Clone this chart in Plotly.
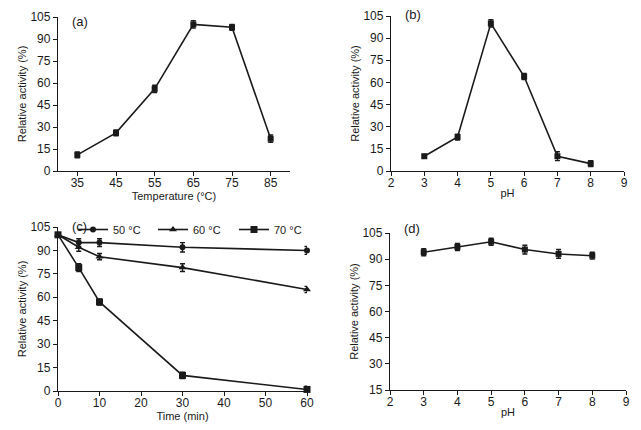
import plotly.graph_objects as go

W, H = 641, 430

# Panel (a): temperature
temp = [35, 45, 55, 65, 75, 85]
temp_act = [11, 26, 56, 100, 98, 22]
temp_err = [2, 2, 2.5, 2.5, 2, 2.5]

# Panel (b): pH optimum
ph = [3, 4, 5, 6, 7, 8]
ph_act = [10, 23, 100, 64, 10, 5]
ph_err = [1.2, 2, 2.5, 2, 3, 2]

# Panel (c): thermal stability
time_min = [0, 5, 10, 30, 60]
act_50 = [100, 95, 95, 92, 90]
err_50 = [0, 2.5, 2.5, 3, 2.5]
act_60 = [100, 92, 86, 79, 65]
err_60 = [0, 2.5, 2, 2.5, 2]
act_70 = [100, 79, 57, 10, 1]
err_70 = [0, 2.5, 2, 2, 2]

# Panel (d): pH stability
ph_stab = [3, 4, 5, 6, 7, 8]
ph_stab_act = [94, 97, 100, 95.5, 93, 92]
ph_stab_err = [2, 2, 2, 2.5, 2.5, 2]

y_ticks_full = [0, 15, 30, 45, 60, 75, 90, 105]
y_ticks_d = [15, 30, 45, 60, 75, 90, 105]

FONT = "Liberation Sans, Arial, sans-serif"
INK = "#1a1a1a"

fig = go.Figure()

def add(x, y, err, xa, ya, symbol, name=None, legend=None, size=6):
    fig.add_trace(go.Scatter(
        x=x, y=y, mode="lines+markers", xaxis=xa, yaxis=ya,
        name=name, showlegend=legend is not None, legend=legend or "legend",
        line=dict(color=INK, width=1.6),
        marker=dict(symbol=symbol, size=size, color=INK),
        error_y=dict(type="data", array=err, visible=True, color=INK, thickness=1.4, width=2.5),
        cliponaxis=False,
    ))

add(temp, temp_act, temp_err, "x", "y", "square")
add(ph, ph_act, ph_err, "x2", "y2", "square")
add(time_min, act_50, err_50, "x3", "y3", "circle", "50 °C", "legend", 6)
add(time_min, act_60, err_60, "x3", "y3", "triangle-up", "60 °C", "legend2", 7)
add(time_min, act_70, err_70, "x3", "y3", "square", "70 °C", "legend3", 7)
add(ph_stab, ph_stab_act, ph_stab_err, "x4", "y4", "square")

def px_x(a, b):
    return [a / W, b / W]

def px_y(top, bottom):
    return [1 - bottom / H, 1 - top / H]

axis_common = dict(showgrid=False, zeroline=False, showline=True, linecolor=INK, linewidth=1.3,
                   ticks="outside", ticklen=4, tickwidth=1.2, tickcolor=INK, automargin=False,
                   tickfont=dict(family=FONT, size=12, color=INK), mirror=False)
title_font = dict(family=FONT, size=11, color=INK)

def xax(**kw):
    return dict(ticklabelstandoff=-4, **axis_common, **kw)

def yax(**kw):
    return dict(**axis_common, **kw)

def leg(xpx):
    return dict(orientation="h", x=xpx / W, y=1 - 215 / H, xanchor="left", yanchor="top",
                font=dict(family=FONT, size=11, color=INK), bgcolor="rgba(0,0,0,0)",
                itemwidth=30)

fig.update_layout(
    width=W, height=H, margin=dict(l=0, r=0, t=0, b=0),
    paper_bgcolor="white", plot_bgcolor="white",
    font=dict(family=FONT, size=12, color=INK),
    xaxis=xax(domain=px_x(58, 290), range=[30, 90], tickvals=temp, anchor="y",
              title=dict(text="Temperature (°C)", font=title_font, standoff=0)),
    yaxis=yax(domain=px_y(17, 171), range=[0, 105], tickvals=y_ticks_full, anchor="x",
              title=dict(text="Relative activity (%)", font=title_font, standoff=1)),
    xaxis2=xax(domain=px_x(391, 624), range=[2, 9], tickvals=[2, 3, 4, 5, 6, 7, 8, 9], anchor="y2",
               title=dict(text="pH", font=title_font, standoff=0)),
    yaxis2=yax(domain=px_y(16, 171), range=[0, 105], tickvals=y_ticks_full, anchor="x2",
               title=dict(text="Relative activity (%)", font=title_font, standoff=1)),
    xaxis3=xax(domain=px_x(58, 307), range=[0, 60], tickvals=[0, 10, 20, 30, 40, 50, 60], anchor="y3",
               title=dict(text="Time (min)", font=title_font, standoff=0)),
    yaxis3=yax(domain=px_y(227, 391), range=[0, 105], tickvals=y_ticks_full, anchor="x3",
               title=dict(text="Relative activity (%)", font=title_font, standoff=1)),
    xaxis4=xax(domain=px_x(390, 626), range=[2, 9], tickvals=[2, 3, 4, 5, 6, 7, 8, 9], anchor="y4",
               title=dict(text="pH", font=title_font, standoff=0)),
    yaxis4=yax(domain=px_y(233, 390), range=[15, 105], tickvals=y_ticks_d, anchor="x4",
               title=dict(text="Relative activity (%)", font=title_font, standoff=1)),
    legend=leg(73),
    legend2=leg(153),
    legend3=leg(234),
)

for ref, lab, ypos in [("x", "(a)", 1.03), ("x2", "(b)", 1.07), ("x3", "(c)", 1.06), ("x4", "(d)", 1.09)]:
    fig.add_annotation(text=lab, xref=f"{ref} domain", yref=f"{'y' + ref[1:]} domain",
                       x=0.05, y=ypos, xanchor="left", yanchor="top", showarrow=False,
                       font=dict(family=FONT, size=13, color=INK))

fig.write_html("out.html", config={"displayModeBar": False},
               post_script="document.body.style.margin='0';document.body.style.overflow='hidden';")
